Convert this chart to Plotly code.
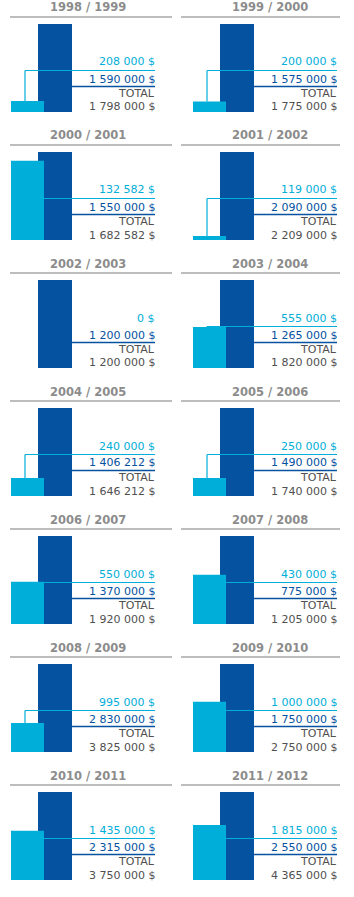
import plotly.graph_objects as go

# ---- data ----
seasons = ["1998 / 1999", "1999 / 2000", "2000 / 2001", "2001 / 2002",
           "2002 / 2003", "2003 / 2004", "2004 / 2005", "2005 / 2006",
           "2006 / 2007", "2007 / 2008", "2008 / 2009", "2009 / 2010",
           "2010 / 2011", "2011 / 2012"]
light_vals = [208000, 200000, 132582, 119000, 0, 555000, 240000, 250000,
              550000, 430000, 995000, 1000000, 1435000, 1815000]
dark_vals = [1590000, 1575000, 1550000, 2090000, 1200000, 1265000, 1406212,
             1490000, 1370000, 775000, 2830000, 1750000, 2315000, 2550000]
totals = [1798000, 1775000, 1682582, 2209000, 1200000, 1820000, 1646212,
          1740000, 1920000, 1205000, 3825000, 2750000, 3750000, 4365000]
# drawn height of the light bar, as a share of the dark bar
light_bar_share = [0.125, 0.12, 0.90, 0.045, 0.0, 0.466, 0.205, 0.205,
                   0.48, 0.56, 0.33, 0.57, 0.56, 0.625]

# ---- style ----
W, H = 354, 897
ROW_H = 128
COL_X = [0, 182]
LIGHT = "#00AEDA"
DARK = "#0552A0"
TITLE_C = "#8C8C8C"
RULE_C = "#BDBDBD"
TXT_C = "#505050"
FONT = "DejaVu Sans"

BAR_TOP, BAR_BOT = 24, 112
CYAN_LEVEL = (BAR_BOT - 70.5) / (BAR_BOT - BAR_TOP)
DARK_LEVEL = (BAR_BOT - 86.5) / (BAR_BOT - BAR_TOP)


def fmt(v):
    return f"{v:,}".replace(",", " ") + " $"


def px(x):
    return x / W


def py(y):
    return 1 - y / H


fig = go.Figure()
layout = dict(width=W, height=H, margin=dict(l=0, r=0, t=0, b=0),
              paper_bgcolor="white", plot_bgcolor="white", showlegend=False,
              barmode="overlay")
shapes, annotations = [], []

for i, season in enumerate(seasons):
    r, c = divmod(i, 2)
    ox = COL_X[c]
    oy = r * ROW_H
    n = i + 1
    xa = "x" if n == 1 else f"x{n}"
    ya = "y" if n == 1 else f"y{n}"
    xk = "xaxis" if n == 1 else f"xaxis{n}"
    yk = "yaxis" if n == 1 else f"yaxis{n}"
    dv = dark_vals[i]
    layout[xk] = dict(domain=[px(ox), px(ox + 160)], range=[0, 160],
                      visible=False, fixedrange=True, anchor=ya)
    layout[yk] = dict(domain=[py(oy + BAR_BOT), py(oy + BAR_TOP)],
                      range=[0, dv], visible=False, fixedrange=True, anchor=xa)

    lb = light_bar_share[i] * dv
    fig.add_trace(go.Bar(x=[55], y=[dv], width=[34], marker_color=DARK,
                         marker_line_width=0, xaxis=xa, yaxis=ya,
                         hoverinfo="skip"))
    fig.add_trace(go.Bar(x=[27.5], y=[lb], width=[33], marker_color=LIGHT,
                         marker_line_width=0, xaxis=xa, yaxis=ya,
                         hoverinfo="skip"))

    # title and rule
    annotations.append(dict(text=f"<b>{season}</b>", x=px(ox + 88), y=py(oy + 7.5),
                            xref="paper", yref="paper", showarrow=False,
                            xanchor="center", yanchor="middle",
                            font=dict(family=FONT, size=11.5, color=TITLE_C)))
    rx0, rx1 = (10, 172) if c == 0 else (-1, 158)
    shapes.append(dict(type="line", xref="paper", yref="paper",
                       x0=px(ox + rx0), x1=px(ox + rx1), y0=py(oy + 17), y1=py(oy + 17),
                       line=dict(color=RULE_C, width=2)))

    cyan_y = CYAN_LEVEL * dv
    if light_vals[i] > 0:
        if lb < cyan_y:
            shapes.append(dict(type="line", xref=xa, yref=ya, x0=25, x1=25,
                               y0=lb, y1=cyan_y, line=dict(color=LIGHT, width=1.2)))
            x_start = 25
        else:
            x_start = 44
        shapes.append(dict(type="line", xref=xa, yref=ya, x0=x_start, x1=155,
                           y0=cyan_y, y1=cyan_y, line=dict(color=LIGHT, width=1.2)))
    dark_y = DARK_LEVEL * dv
    shapes.append(dict(type="line", xref=xa, yref=ya, x0=72, x1=155,
                       y0=dark_y, y1=dark_y, line=dict(color=DARK, width=1.3)))

    texts = [(fmt(light_vals[i]), 62, LIGHT), (fmt(dv), 79, DARK),
             ("TOTAL", 93.3, TXT_C), (fmt(totals[i]), 107, TXT_C)]
    for t, ty, col in texts:
        annotations.append(dict(text=t, x=px(ox + 156), y=py(oy + ty),
                                xref="paper", yref="paper", showarrow=False,
                                xanchor="right", yanchor="middle", borderpad=0,
                                font=dict(family=FONT, size=11, color=col)))

layout["shapes"] = shapes
layout["annotations"] = annotations
fig.update_layout(**layout)
fig.write_html("out.html", config={"displayModeBar": False})
